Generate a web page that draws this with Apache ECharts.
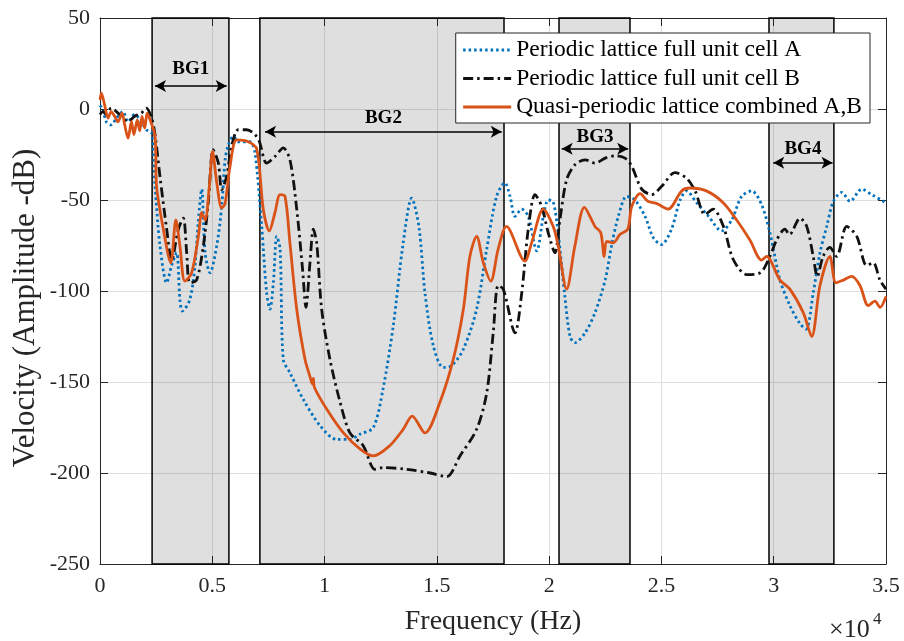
<!DOCTYPE html>
<html><head><meta charset="utf-8">
<script src="https://cdn.jsdelivr.net/npm/echarts@6/dist/echarts.min.js"></script>
<style>html,body{margin:0;padding:0;background:#fff}#c{width:904px;height:641px}</style>
</head><body><div id="c"></div>
<script>
// Frequency (Hz), amplitude (dB) pairs
const seriesNames = ['Periodic lattice full unit cell A', 'Periodic lattice full unit cell B', 'Quasi-periodic lattice combined A,B'];
const cellA = [[0,2],[130,-0.4],[280,-7],[500,-8.7],[730,-5],[1020,-1.4],[1250,-7],[1540,-3],[1840,-7],[2060,-11.4],[2300,-13],[2450,-42],[2670,-75],[2970,-95.5],[3190,-86],[3410,-79],[3560,-105],[3670,-111],[4000,-104.7],[4230,-86],[4380,-61],[4530,-44],[4680,-79],[4900,-90],[5200,-75],[5420,-53.5],[5570,-28],[5710,-20],[5940,-15],[6160,-18],[6680,-18],[6900,-24],[7200,-64.5],[7420,-101],[7570,-110],[7720,-95.5],[7870,-70],[8020,-77],[8160,-137.6],[8460,-145],[9050,-159.5],[9800,-174],[10540,-181.5],[11130,-181.5],[11570,-178.7],[12170,-175],[12600,-154],[13060,-119],[13500,-73.6],[13880,-49],[14200,-64.5],[14470,-101],[14840,-130],[15290,-142],[15660,-141],[16180,-132],[16770,-110],[17220,-77],[17660,-48],[18030,-40.6],[18260,-48],[18480,-59],[18780,-55],[19070,-59],[19450,-78],[19740,-59],[19960,-50],[20180,-51],[20400,-68],[20700,-103],[20930,-125],[21150,-128.4],[21600,-123],[22040,-112],[22500,-93.7],[22780,-75],[23080,-59],[23450,-48],[23820,-50],[24270,-59],[24640,-70.8],[25000,-74.5],[25450,-66],[25830,-50],[26120,-45],[26570,-51.6],[27100,-59],[27680,-67],[28130,-61],[28570,-48],[29020,-45],[29460,-52.5],[29830,-68],[30280,-94],[30720,-108],[31170,-118],[31440,-121],[31760,-101],[32060,-79],[32360,-64.5],[32660,-50.7],[33030,-45.8],[33400,-50.7],[33920,-44],[34360,-47],[34880,-50.7],[35000,-52]];
const cellB = [[0,-3],[130,-1.4],[280,-3],[500,0.5],[730,-1.4],[950,-4],[1250,-7],[1540,-4],[1840,-2.3],[2060,0.5],[2300,-5],[2450,-14],[2670,-37],[2970,-66],[3190,-83],[3490,-66],[3710,-60],[3860,-79],[4000,-95.5],[4300,-94],[4600,-75.4],[4820,-51.6],[5040,-22.4],[5270,-29.7],[5420,-44.3],[5640,-37],[5860,-20.6],[6160,-11.4],[6530,-11.4],[6900,-14],[7100,-18],[7420,-29.7],[7800,-26],[8160,-21.4],[8460,-28],[8760,-55],[9020,-88],[9170,-109],[9350,-84.6],[9500,-66],[9650,-73.6],[9870,-110],[10240,-137.6],[10690,-161],[11130,-178],[11720,-185],[12240,-198],[12600,-197],[13660,-198],[14700,-200],[15440,-202],[16030,-190.6],[16770,-176],[17220,-156],[17510,-123],[17730,-97],[17960,-99],[18480,-123],[18780,-101],[19070,-66],[19370,-47],[19670,-53.5],[19960,-68],[20260,-79],[20480,-60.8],[20780,-38.8],[21150,-30.6],[21600,-27.9],[22040,-29.7],[22500,-27],[22930,-25.7],[23380,-27],[23680,-31.5],[24120,-44],[24570,-47],[25010,-42.5],[25600,-35],[26120,-38],[26500,-45],[26940,-58],[27300,-55],[27760,-64.5],[28200,-82.7],[28800,-91],[29400,-90],[29830,-81],[30130,-72],[30500,-66],[30700,-69],[31170,-60],[31470,-64.5],[31760,-81],[31940,-92],[32200,-81],[32500,-76],[32800,-81],[33250,-64.5],[33700,-70],[34140,-86],[34430,-84.5],[34730,-94],[35000,-99]];
const quasiAB = [[0,5],[60,8.7],[210,2],[360,-5],[500,-1.4],[650,-4],[800,-7],[980,-2.3],[1100,-8.7],[1250,-16],[1400,-7],[1510,-14],[1660,-6],[1770,-12],[1870,-4],[1990,-10.5],[2100,-2.3],[2230,-6],[2450,-15],[2520,-42.5],[2820,-66],[3150,-84.5],[3380,-61],[3560,-75.4],[3780,-94.6],[4080,-90],[4380,-70],[4530,-57],[4680,-61],[4870,-42.5],[5010,-23.3],[5200,-40.6],[5420,-54.4],[5570,-52],[5790,-31.5],[6090,-17],[6600,-18],[6980,-22],[7270,-55],[7540,-67],[7790,-57],[8020,-47],[8240,-48],[8460,-74],[8760,-110],[9130,-137.6],[9350,-147],[9450,-151],[9500,-148],[9550,-153],[10100,-165],[10840,-178],[11600,-187],[12170,-190.6],[12900,-185],[13500,-176],[13900,-168.7],[14470,-178],[15140,-161],[15730,-137.6],[16180,-110],[16470,-81],[16770,-70],[17070,-84.5],[17400,-94.6],[17730,-77],[18100,-64.5],[18920,-83.6],[19220,-73.5],[19740,-55],[20180,-64.5],[20400,-75],[20780,-99],[21150,-75],[21570,-54],[22040,-64.5],[22300,-68],[22450,-81],[22560,-72.7],[22860,-73.5],[23150,-69],[23500,-66],[23680,-53.5],[24050,-46.5],[24400,-50.7],[24800,-52],[25300,-55],[25900,-45],[26270,-43.4],[27000,-45],[27760,-51.6],[28350,-61],[28940,-72],[29460,-83],[29680,-81],[30280,-94],[30720,-99],[31320,-112],[31690,-125],[32060,-97],[32500,-81],[32770,-95.5],[33100,-94],[33470,-92],[33840,-97],[34210,-108],[34510,-105.6],[34730,-109],[35000,-103]];
// Band gaps
const bandNames = ['BG1','BG2','BG3','BG4'];
const bandStart = [2320, 7120, 20440, 29790];
const bandEnd = [5740, 17990, 23600, 32680];
const arrowStart = [2450, 7350, 20560, 29980];
const arrowEnd = [5640, 17890, 23520, 32620];
const arrowLevel = [12.7, -12.5, -21.8, -29.5];
const labelGap = [7, 4, 2, 4];
const xTicks = [0, 5000, 10000, 15000, 20000, 25000, 30000, 35000];
const yTicks = [-250, -200, -150, -100, -50, 0, 50];
const xTitle = 'Frequency (Hz)';
const yTitle = 'Velocity (Amplitude -dB)';

const FONT = 'Liberation Serif';
const TXT = '#262626';
const LW = 2.8;
const chart = echarts.init(document.getElementById('c'), null, {renderer: 'canvas'});

const markAreaData = bandNames.map((n, i) => [{xAxis: bandStart[i]}, {xAxis: bandEnd[i]}]);
const markLineData = bandNames.map((n, i) => [
  {coord: [arrowStart[i], arrowLevel[i]], name: n, label: {distance: labelGap[i]}},
  {coord: [arrowEnd[i], arrowLevel[i]]}
]);

const axisCommon = {
  axisLine: {show: true, onZero: false, lineStyle: {color: TXT, width: 1}},
  axisTick: {show: true, inside: true, length: 8, lineStyle: {color: TXT}}
};

const option = {
  animation: false,
  backgroundColor: '#fff',
  grid: {left: 100, right: 18, top: 18, bottom: 76, containLabel: false},
  legend: {
    orient: 'vertical', right: 34, top: 33,
    backgroundColor: '#fff', borderColor: '#262626', borderWidth: 1,
    padding: [5, 8, 4, 6], itemGap: 4.5, itemWidth: 48, itemHeight: 20,
    itemStyle: {opacity: 0},
    lineStyle: {width: LW},
    textStyle: {fontFamily: FONT, fontSize: 23.5, color: '#000'},
    data: seriesNames
  },
  xAxis: [Object.assign({
    type: 'value', min: 0, max: 35000, interval: 5000,
    axisLabel: {fontFamily: FONT, fontSize: 22, color: TXT, margin: 11,
      formatter: v => String(v / 10000)},
    splitLine: {show: true, lineStyle: {color: '#dfdfdf', width: 1}},
    name: xTitle, nameLocation: 'middle', nameGap: 44,
    nameTextStyle: {fontFamily: FONT, fontSize: 28, color: TXT}
  }, axisCommon), Object.assign({
    type: 'value', min: 0, max: 35000, interval: 5000, position: 'top',
    axisLabel: {show: false}, splitLine: {show: false}
  }, axisCommon)],
  yAxis: [Object.assign({
    type: 'value', min: -250, max: 50, interval: 50,
    axisLabel: {fontFamily: FONT, fontSize: 22, color: TXT, margin: 10},
    splitLine: {show: true, lineStyle: {color: '#dfdfdf', width: 1}}
  }, axisCommon), Object.assign({
    type: 'value', min: -250, max: 50, interval: 50, position: 'right',
    axisLabel: {show: false}, splitLine: {show: false}
  }, axisCommon)],
  graphic: [
    {type: 'text', x: 26, y: 308, rotation: Math.PI / 2,
      style: {text: yTitle, font: '31px "Liberation Serif"', fill: TXT, align: 'center', verticalAlign: 'middle'}},
    {type: 'text', left: 829, top: 617, style: {text: '×10', font: '26px "Liberation Serif"', fill: TXT}},
    {type: 'text', left: 873, top: 611, style: {text: '4', font: '17px "Liberation Serif"', fill: TXT}}
  ],
  series: [
    {
      name: 'bands', type: 'line', data: [], z: 1, silent: true,
      markArea: {
        silent: true,
        itemStyle: {color: 'rgba(0,0,0,0.125)', borderColor: '#000', borderWidth: 1.5},
        data: markAreaData
      },
      markLine: {
        silent: true, symbol: ['arrow', 'arrow'], symbolSize: [9, 11],
        lineStyle: {color: '#000', width: 1.5, type: 'solid'},
        label: {show: true, position: 'insideMiddleTop', distance: 4, formatter: '{b}',
          fontFamily: FONT, fontSize: 19, fontWeight: 'bold', color: '#000'},
        data: markLineData
      }
    },
    {
      name: seriesNames[0], type: 'line', data: cellA, symbol: 'none', smooth: 0.3, z: 3,
      lineStyle: {color: '#0072BD', width: LW, type: [2.5, 3]},
      itemStyle: {color: '#0072BD'}
    },
    {
      name: seriesNames[1], type: 'line', data: cellB, symbol: 'none', smooth: 0.3, z: 4,
      lineStyle: {color: '#111', width: LW, type: [10, 4, 2.5, 4]},
      itemStyle: {color: '#111'}
    },
    {
      name: seriesNames[2], type: 'line', data: quasiAB, symbol: 'none', smooth: 0.3, z: 5,
      lineStyle: {color: '#D95319', width: LW, type: 'solid'},
      itemStyle: {color: '#D95319'}
    }
  ]
};
chart.setOption(option);
</script></body></html>
